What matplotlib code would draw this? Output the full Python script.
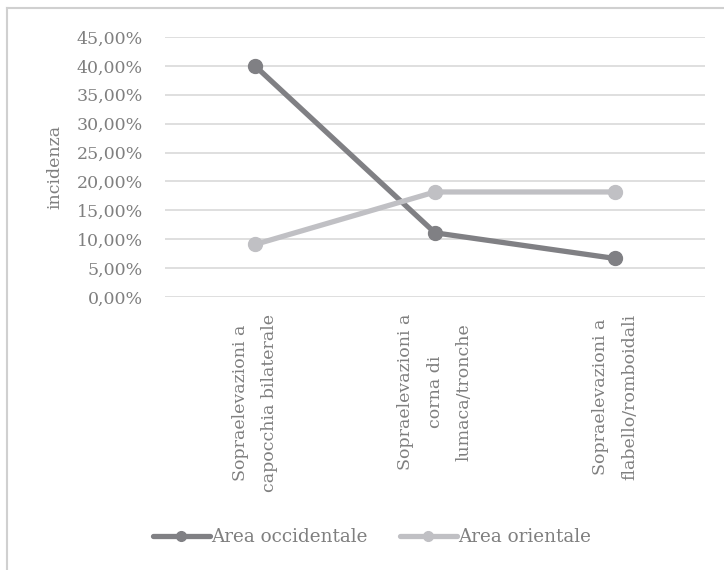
import matplotlib
matplotlib.use('Agg')
import matplotlib.pyplot as plt
from matplotlib.lines import Line2D
from matplotlib.ticker import FuncFormatter

# dati
categorie = ['Sopraelevazioni a\ncapocchia bilaterale',
             'Sopraelevazioni a\ncorna di\nlumaca/tronche',
             'Sopraelevazioni a\nflabello/romboidali']
occidentale = [40.00, 11.11, 6.67]
orientale = [9.09, 18.18, 18.18]
serie = ['Area occidentale', 'Area orientale']
tick_y = [0, 5, 10, 15, 20, 25, 30, 35, 40, 45]

grigio_testo = '#7f7f7f'
col_occ = '#808084'
col_ori = '#c0c0c4'

plt.rcParams['font.family'] = ['DejaVu Serif']
plt.rcParams['font.size'] = 12.5

fig = plt.figure(figsize=(7.24, 5.70), dpi=100)
ax = fig.add_axes([165 / 724, 1 - 297 / 570, 540 / 724, 260 / 570])

x = range(len(categorie))
ax.plot(x, occidentale, color=col_occ, lw=3.8, marker='o', ms=10,
        solid_capstyle='round', label=serie[0], zorder=3)
ax.plot(x, orientale, color=col_ori, lw=3.8, marker='o', ms=10,
        solid_capstyle='round', label=serie[1], zorder=3)

ax.set_xlim(-0.5, len(categorie) - 0.5)
ax.set_ylim(0, 45)
ax.set_yticks(tick_y)
ax.yaxis.set_major_formatter(FuncFormatter(lambda v, p: f"{v:.2f}%".replace('.', ',')))
ax.grid(axis='y', color='#d9d9d9', lw=1.2)
ax.set_axisbelow(True)
for s in ax.spines.values():
    s.set_visible(False)

ax.set_xticks(list(x))
ax.set_xticklabels(categorie, rotation=90, ha='center', va='top',
                   multialignment='center', color=grigio_testo)
for t in ax.get_xticklabels():
    t.set_linespacing(1.95)
ax.tick_params(axis='x', length=0, pad=12)
ax.tick_params(axis='y', length=0, pad=16, labelcolor=grigio_testo)
ax.set_ylabel('incidenza', color=grigio_testo, labelpad=9)

fig.legend(loc='center', bbox_to_anchor=(0.514, 0.058), ncol=2, frameon=False,
           fontsize=13.2, handlelength=3.1, handletextpad=0.1, columnspacing=1.75,
           markerscale=0.7, labelcolor=grigio_testo)

# cornice del grafico
fig.add_artist(Line2D([7 / 724, 1], [1 - 8 / 570, 1 - 8 / 570], color='#d0d0d0', lw=1.5))
fig.add_artist(Line2D([7 / 724, 7 / 724], [0, 1 - 8 / 570], color='#d0d0d0', lw=1.5))

fig.savefig('out.png', dpi=100, facecolor='white')
